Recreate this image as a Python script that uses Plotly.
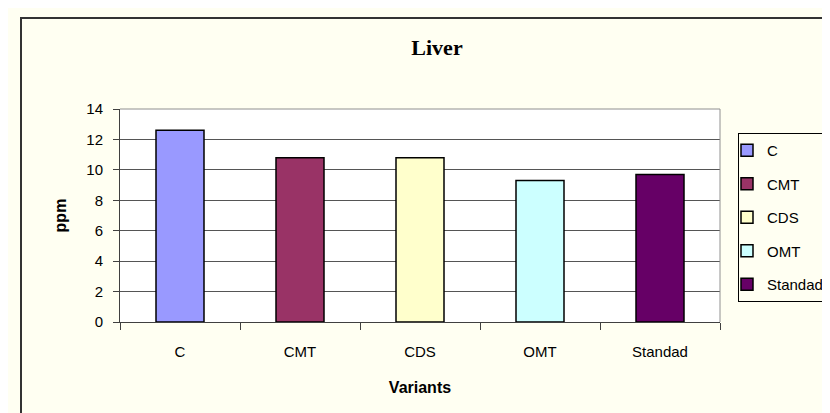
import plotly.graph_objects as go

variants = ['C', 'CMT', 'CDS', 'OMT', 'Standad']
ppm = [12.6, 10.8, 10.8, 9.3, 9.7]
colors = ['#9999FF', '#993366', '#FFFFCC', '#CCFFFF', '#660066']
y_ticks = [0, 2, 4, 6, 8, 10, 12, 14]

BG = '#FFFFF2'
W, H = 830, 413
L, R, T, B = 112, 118, 101, 99

fig = go.Figure()
for i, (name, val, col) in enumerate(zip(variants, ppm, colors)):
    fig.add_trace(go.Bar(
        x=[name], y=[val], name=name, width=0.4,
        marker=dict(color=col, line=dict(color='#000000', width=1.5)),
        legendgroup='g%d' % i,
    ))

# chart-area border (only left and top visible, the rest runs off the picture)
pw, ph = W - L - R, H - T - B
fig.add_shape(type='rect', xref='paper', yref='paper',
              x0=(13 - L) / pw, x1=(860 - L) / pw,
              y0=(H - B - 440) / ph, y1=(H - B - 10) / ph,
              line=dict(color='#333333', width=2), fillcolor='rgba(0,0,0,0)', layer='below')

fig.update_layout(
    width=W, height=H,
    margin=dict(l=L, r=R, t=T, b=B, pad=0, autoexpand=False),
    paper_bgcolor=BG, plot_bgcolor='#FFFFFF',
    barmode='overlay',
    font=dict(family='Liberation Sans, Arial', size=15, color='#000000'),
    title=dict(text='<b>Liver</b>', font=dict(family='Liberation Serif, Times New Roman', size=22),
               x=429 / W, xanchor='center', xref='container',
               y=(H - 39) / H, yanchor='middle', yref='container'),
    legend=dict(x=(730 - L) / pw, xanchor='left', y=(H - B - 125) / ph, yanchor='top',
                bgcolor=BG, bordercolor='#000000', borderwidth=1, indentation=-12,
                tracegroupgap=11, font=dict(size=15)),
    xaxis=dict(
        categoryorder='array', categoryarray=variants,
        showline=True, linecolor='#404040', linewidth=1, mirror=False,
        ticks='outside', tickson='boundaries', ticklen=7, tickcolor='#404040',
        ticklabelstandoff=16,
        title=dict(text='<b>Variants</b>', standoff=22, font=dict(size=16)),
    ),
    yaxis=dict(
        range=[0, 14], tickvals=y_ticks,
        showline=True, linecolor='#404040', linewidth=1,
        ticks='outside', ticklen=6, tickcolor='#404040', ticklabelstandoff=7,
        showgrid=True, gridcolor='#555555', gridwidth=1,
        zeroline=False,
        title=dict(text='<b>ppm</b>', standoff=15, font=dict(size=16)),
    ),
)

# light plot-area frame on top and right
fig.add_shape(type='line', xref='paper', yref='paper', x0=0, x1=1, y0=1, y1=1,
              line=dict(color='#909090', width=1))
fig.add_shape(type='line', xref='paper', yref='paper', x0=1, x1=1, y0=0, y1=1,
              line=dict(color='#909090', width=1))

fig.write_html('out.html')
